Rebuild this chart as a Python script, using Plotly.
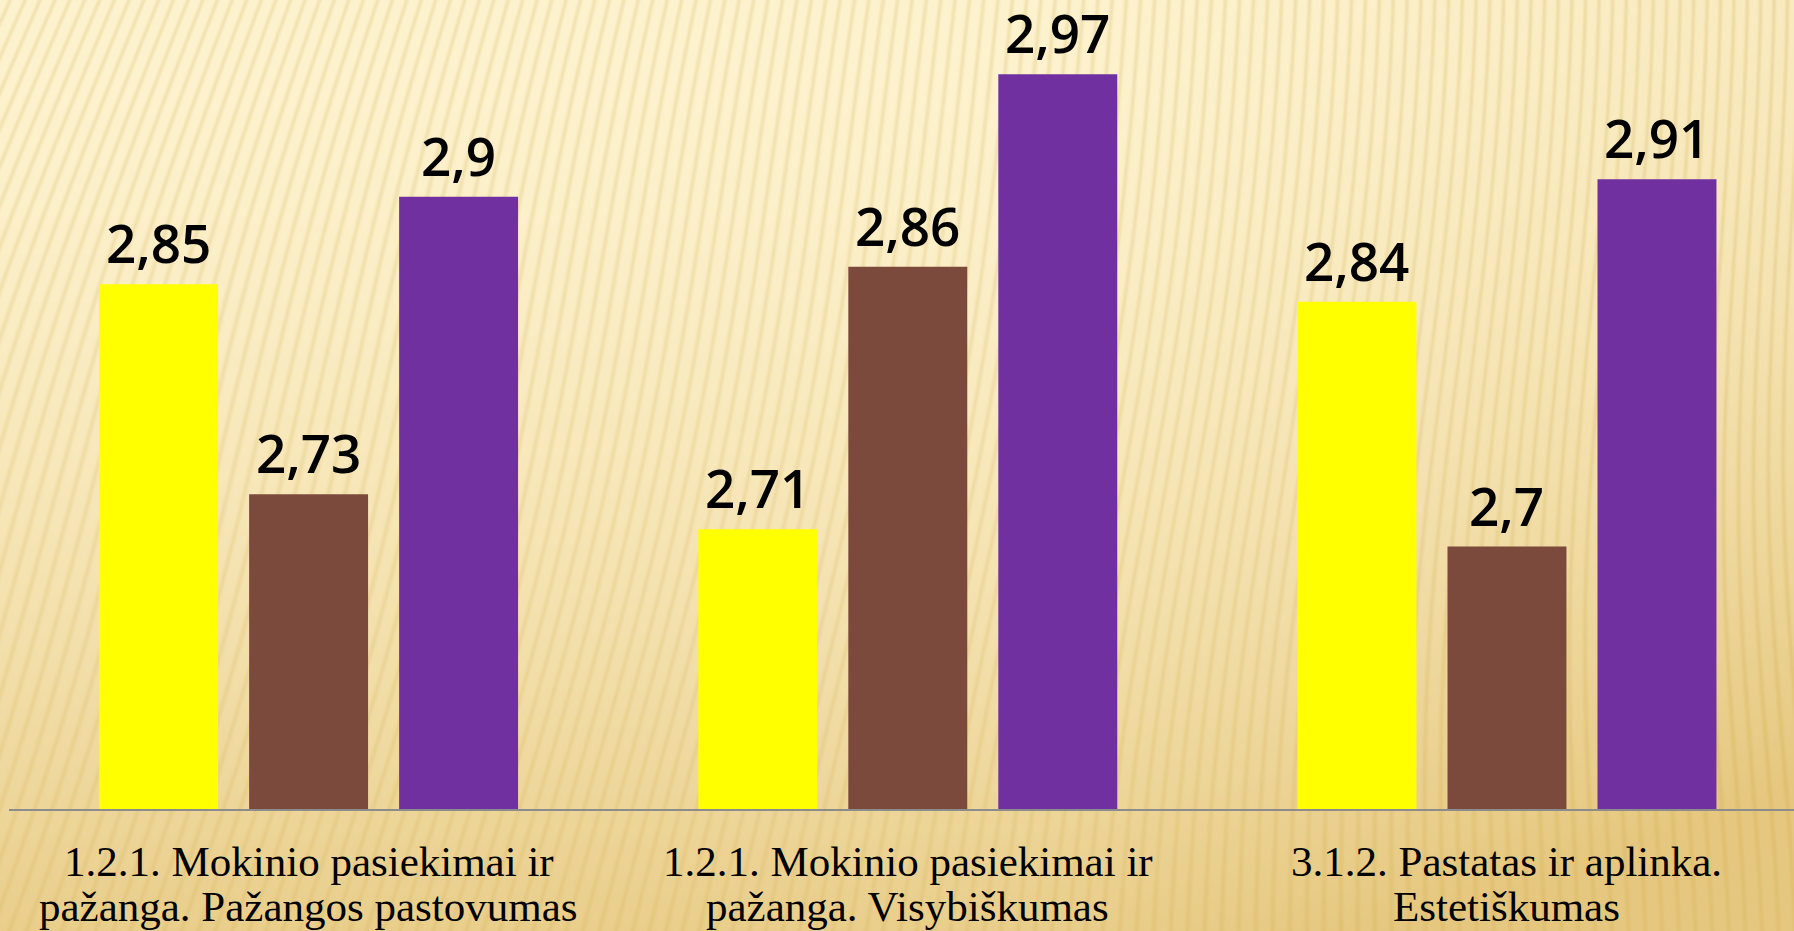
import base64
import struct
import zlib

import numpy as np
import plotly.graph_objects as go

# ---------------- data ----------------
categories = [
    "1.2.1. Mokinio pasiekimai ir pažanga. Pažangos pastovumas",
    "1.2.1. Mokinio pasiekimai ir pažanga. Visybiškumas",
    "3.1.2. Pastatas ir aplinka. Estetiškumas",
]
label_line1 = [
    "1.2.1. Mokinio pasiekimai ir",
    "1.2.1. Mokinio pasiekimai ir",
    "3.1.2. Pastatas ir aplinka.",
]
label_line2 = [
    "pažanga. Pažangos pastovumas",
    "pažanga. Visybiškumas",
    "Estetiškumas",
]
series_names = ["Serija 1", "Serija 2", "Serija 3"]
values_yellow = [2.85, 2.71, 2.84]
values_brown = [2.73, 2.86, 2.70]
values_purple = [2.90, 2.97, 2.91]
series_colors = ["#FFFF00", "#7B4A3D", "#7030A0"]

W, H = 1794, 931
BARGAP = 0.249
BARGROUPGAP = 0.207


# ---------------- background texture (decoration only) ----------------
def make_background():
    yy, xx = np.mgrid[0:H, 0:W].astype(float)
    t = 0.85 * (yy / H) ** 1.7 + 0.40 * np.clip((xx - 1000) / 794, 0, 1) ** 1.3 * (0.5 + 0.5 * yy / H)
    t = np.clip(t, 0, 1)
    light = np.array([254, 243, 207], float)
    dark = np.array([230, 200, 128], float)
    img = light[None, None, :] * (1 - t[..., None]) + dark[None, None, :] * t[..., None]
    fx, fy = 1750.0, -4500.0
    theta = np.arctan2(xx - fx, yy - fy)
    phase = theta / 0.0030 + 0.8 * np.sin(yy / 170.0 + xx / 350.0)
    s = (0.5 + 0.5 * np.cos(2 * np.pi * phase)) ** 4
    amp = 0.8 - 0.45 * (yy / H)
    img = img - (s * amp)[..., None] * np.array([14, 20, 36], float)[None, None, :]
    return np.clip(img, 0, 255).astype(np.uint8)


def png_data_uri(arr):
    h, w, _ = arr.shape
    rows = np.concatenate([np.zeros((h, 1), np.uint8), arr.reshape(h, w * 3)], axis=1)
    raw = rows.tobytes()

    def chunk(tag, data):
        return (struct.pack(">I", len(data)) + tag + data
                + struct.pack(">I", zlib.crc32(tag + data) & 0xFFFFFFFF))

    png = (b"\x89PNG\r\n\x1a\n"
           + chunk(b"IHDR", struct.pack(">IIBBBBB", w, h, 8, 2, 0, 0, 0))
           + chunk(b"IDAT", zlib.compress(raw, 6))
           + chunk(b"IEND", b""))
    return "data:image/png;base64," + base64.b64encode(png).decode()


bg_uri = png_data_uri(make_background())

# ---------------- figure ----------------
fig = go.Figure()
x_idx = list(range(len(categories)))
all_series = [values_yellow, values_brown, values_purple]
for name, vals, col in zip(series_names, all_series, series_colors):
    fig.add_trace(go.Bar(
        x=x_idx,
        y=vals,
        name=name,
        marker=dict(color=col, line=dict(width=0)),
        hoverinfo="skip",
    ))

annotations = []
# value labels above each bar (offset of each series inside its group follows bargap)
slot = (1 - BARGAP) / len(all_series)
for k, vals in enumerate(all_series):
    offset = (k - (len(all_series) - 1) / 2) * slot
    for i, v in enumerate(vals):
        annotations.append(dict(
            x=i + offset, xref="x", y=v, yref="y",
            text=f"{v:g}".replace(".", ","), showarrow=False,
            xanchor="center", yanchor="bottom", yshift=4, borderpad=0,
            font=dict(family="Open Sans, Liberation Sans, sans-serif", size=53,
                      color="#000000", weight=600),
        ))

for i, (l1, l2) in enumerate(zip(label_line1, label_line2)):
    for line, ypix in ((l1, 861), (l2, 906)):
        annotations.append(dict(
            x=i, xref="x", y=1 - ypix / H, yref="paper",
            text=line, showarrow=False, xanchor="center", yanchor="middle",
            font=dict(family="Liberation Serif, Times New Roman, serif", size=43, color="#000000"),
        ))

fig.update_layout(
    width=W, height=H, autosize=False,
    margin=dict(l=0, r=0, t=0, b=0, pad=0),
    paper_bgcolor="#F6E6B4",
    plot_bgcolor="rgba(0,0,0,0)",
    showlegend=False,
    barmode="group",
    bargap=BARGAP,
    bargroupgap=BARGROUPGAP,
    images=[dict(source=bg_uri, xref="paper", yref="paper", x=0, y=1, sizex=1, sizey=1,
                 xanchor="left", yanchor="top", sizing="stretch", layer="below")],
    xaxis=dict(domain=[9 / W, 1], range=[-0.5, 2.479], showticklabels=False, ticks="",
               showgrid=False, zeroline=False, showline=True, linecolor="#8C8C8C", linewidth=2,
               fixedrange=True),
    yaxis=dict(domain=[(H - 809) / H, 1], range=[2.55, 3.0125], showticklabels=False,
               showgrid=False, zeroline=False, showline=False, fixedrange=True),
    annotations=annotations,
)

fig.write_html(
    "out.html",
    config={"displayModeBar": False},
    post_script="document.body.style.margin='0';document.body.style.overflow='hidden';",
)
